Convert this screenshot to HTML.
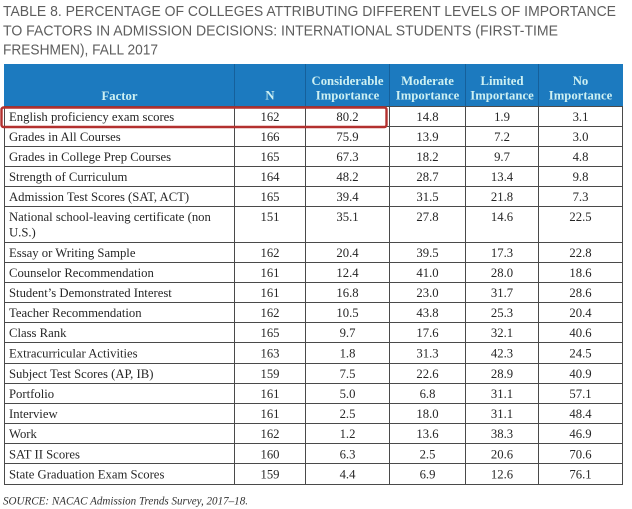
<!DOCTYPE html>
<html>
<head>
<meta charset="utf-8">
<style>
html,body{margin:0;padding:0;background:#fff;}
svg{display:block;}
.t{font-family:"Liberation Sans",sans-serif;font-size:15px;fill:#5e5e5e;}
.b{font-family:"Liberation Serif",serif;font-size:12.7px;fill:#262626;}
.h{font-family:"Liberation Serif",serif;font-size:12.7px;font-weight:bold;fill:#cdf0f2;}
.s{font-family:"Liberation Serif",serif;font-size:12px;font-style:italic;fill:#333;}
</style>
</head>
<body>
<svg width="632" height="509" viewBox="0 0 632 509" xmlns="http://www.w3.org/2000/svg">
<rect width="632" height="509" fill="#fff"/>
<!-- Title -->
<text class="t" x="3" y="16" textLength="613" lengthAdjust="spacingAndGlyphs">TABLE 8. PERCENTAGE OF COLLEGES ATTRIBUTING DIFFERENT LEVELS OF IMPORTANCE</text>
<text class="t" x="3" y="35.5" textLength="555" lengthAdjust="spacingAndGlyphs">TO FACTORS IN ADMISSION DECISIONS: INTERNATIONAL STUDENTS (FIRST-TIME</text>
<text class="t" x="3" y="54.5" textLength="155" lengthAdjust="spacingAndGlyphs">FRESHMEN), FALL 2017</text>

<!-- Header -->
<rect x="4" y="64" width="619" height="42" fill="#1c7abf"/>
<g stroke="#15609b" stroke-width="1" shape-rendering="crispEdges">
<line x1="234.5" y1="64" x2="234.5" y2="106"/>
<line x1="305.5" y1="64" x2="305.5" y2="106"/>
<line x1="389.5" y1="64" x2="389.5" y2="106"/>
<line x1="465.5" y1="64" x2="465.5" y2="106"/>
<line x1="538.5" y1="64" x2="538.5" y2="106"/>
</g>
<g text-anchor="middle">
<text class="h" x="119.5" y="100">Factor</text>
<text class="h" x="270" y="99.5">N</text>
<text class="h" x="347.5" y="85">Considerable</text>
<text class="h" x="347.5" y="99.5">Importance</text>
<text class="h" x="427.5" y="85">Moderate</text>
<text class="h" x="427.5" y="99.5">Importance</text>
<text class="h" x="502" y="85">Limited</text>
<text class="h" x="502" y="99.5">Importance</text>
<text class="h" x="580.5" y="85">No</text>
<text class="h" x="580.5" y="99.5">Importance</text>
</g>

<!-- Grid -->
<g stroke="#4a4a4a" stroke-width="1" shape-rendering="crispEdges" fill="none">
<line x1="4.5" y1="106" x2="4.5" y2="484.5"/>
<line x1="234.5" y1="106" x2="234.5" y2="484.5"/>
<line x1="305.5" y1="106" x2="305.5" y2="484.5"/>
<line x1="389.5" y1="106" x2="389.5" y2="484.5"/>
<line x1="465.5" y1="106" x2="465.5" y2="484.5"/>
<line x1="538.5" y1="106" x2="538.5" y2="484.5"/>
<line x1="622.5" y1="106" x2="622.5" y2="484.5"/>
<line x1="4" y1="106.5" x2="623" y2="106.5"/>
<line x1="4" y1="126.5" x2="623" y2="126.5"/>
<line x1="4" y1="146.5" x2="623" y2="146.5"/>
<line x1="4" y1="166.5" x2="623" y2="166.5"/>
<line x1="4" y1="186.5" x2="623" y2="186.5"/>
<line x1="4" y1="206.5" x2="623" y2="206.5"/>
<line x1="4" y1="242.5" x2="623" y2="242.5"/>
<line x1="4" y1="262.5" x2="623" y2="262.5"/>
<line x1="4" y1="282.5" x2="623" y2="282.5"/>
<line x1="4" y1="302.5" x2="623" y2="302.5"/>
<line x1="4" y1="322.5" x2="623" y2="322.5"/>
<line x1="4" y1="342.5" x2="623" y2="342.5"/>
<line x1="4" y1="363.5" x2="623" y2="363.5"/>
<line x1="4" y1="383.5" x2="623" y2="383.5"/>
<line x1="4" y1="403.5" x2="623" y2="403.5"/>
<line x1="4" y1="423.5" x2="623" y2="423.5"/>
<line x1="4" y1="443.5" x2="623" y2="443.5"/>
<line x1="4" y1="463.5" x2="623" y2="463.5"/>
<line x1="4" y1="484.5" x2="623" y2="484.5"/>
</g>

<!-- Body rows -->
<g>
<text class="b" x="9" y="121">English proficiency exam scores</text>
<text class="b" x="9" y="141">Grades in All Courses</text>
<text class="b" x="9" y="161">Grades in College Prep Courses</text>
<text class="b" x="9" y="181">Strength of Curriculum</text>
<text class="b" x="9" y="201">Admission Test Scores (SAT, ACT)</text>
<text class="b" x="9" y="221">National school-leaving certificate (non</text>
<text class="b" x="9" y="236.5">U.S.)</text>
<text class="b" x="9" y="257">Essay or Writing Sample</text>
<text class="b" x="9" y="277">Counselor Recommendation</text>
<text class="b" x="9" y="297">Student’s Demonstrated Interest</text>
<text class="b" x="9" y="317">Teacher Recommendation</text>
<text class="b" x="9" y="337">Class Rank</text>
<text class="b" x="9" y="357.5">Extracurricular Activities</text>
<text class="b" x="9" y="378">Subject Test Scores (AP, IB)</text>
<text class="b" x="9" y="398">Portfolio</text>
<text class="b" x="9" y="418">Interview</text>
<text class="b" x="9" y="438">Work</text>
<text class="b" x="9" y="458.5">SAT II Scores</text>
<text class="b" x="9" y="478.5">State Graduation Exam Scores</text>
</g>

<g text-anchor="middle">
<!-- N -->
<text class="b" x="270" y="121">162</text>
<text class="b" x="270" y="141">166</text>
<text class="b" x="270" y="161">165</text>
<text class="b" x="270" y="181">164</text>
<text class="b" x="270" y="201">165</text>
<text class="b" x="270" y="221">151</text>
<text class="b" x="270" y="257">162</text>
<text class="b" x="270" y="277">161</text>
<text class="b" x="270" y="297">161</text>
<text class="b" x="270" y="317">162</text>
<text class="b" x="270" y="337">165</text>
<text class="b" x="270" y="357.5">163</text>
<text class="b" x="270" y="378">159</text>
<text class="b" x="270" y="398">161</text>
<text class="b" x="270" y="418">161</text>
<text class="b" x="270" y="438">162</text>
<text class="b" x="270" y="458.5">160</text>
<text class="b" x="270" y="478.5">159</text>
<!-- Considerable -->
<text class="b" x="347.5" y="121">80.2</text>
<text class="b" x="347.5" y="141">75.9</text>
<text class="b" x="347.5" y="161">67.3</text>
<text class="b" x="347.5" y="181">48.2</text>
<text class="b" x="347.5" y="201">39.4</text>
<text class="b" x="347.5" y="221">35.1</text>
<text class="b" x="347.5" y="257">20.4</text>
<text class="b" x="347.5" y="277">12.4</text>
<text class="b" x="347.5" y="297">16.8</text>
<text class="b" x="347.5" y="317">10.5</text>
<text class="b" x="347.5" y="337">9.7</text>
<text class="b" x="347.5" y="357.5">1.8</text>
<text class="b" x="347.5" y="378">7.5</text>
<text class="b" x="347.5" y="398">5.0</text>
<text class="b" x="347.5" y="418">2.5</text>
<text class="b" x="347.5" y="438">1.2</text>
<text class="b" x="347.5" y="458.5">6.3</text>
<text class="b" x="347.5" y="478.5">4.4</text>
<!-- Moderate -->
<text class="b" x="427.5" y="121">14.8</text>
<text class="b" x="427.5" y="141">13.9</text>
<text class="b" x="427.5" y="161">18.2</text>
<text class="b" x="427.5" y="181">28.7</text>
<text class="b" x="427.5" y="201">31.5</text>
<text class="b" x="427.5" y="221">27.8</text>
<text class="b" x="427.5" y="257">39.5</text>
<text class="b" x="427.5" y="277">41.0</text>
<text class="b" x="427.5" y="297">23.0</text>
<text class="b" x="427.5" y="317">43.8</text>
<text class="b" x="427.5" y="337">17.6</text>
<text class="b" x="427.5" y="357.5">31.3</text>
<text class="b" x="427.5" y="378">22.6</text>
<text class="b" x="427.5" y="398">6.8</text>
<text class="b" x="427.5" y="418">18.0</text>
<text class="b" x="427.5" y="438">13.6</text>
<text class="b" x="427.5" y="458.5">2.5</text>
<text class="b" x="427.5" y="478.5">6.9</text>
<!-- Limited -->
<text class="b" x="502" y="121">1.9</text>
<text class="b" x="502" y="141">7.2</text>
<text class="b" x="502" y="161">9.7</text>
<text class="b" x="502" y="181">13.4</text>
<text class="b" x="502" y="201">21.8</text>
<text class="b" x="502" y="221">14.6</text>
<text class="b" x="502" y="257">17.3</text>
<text class="b" x="502" y="277">28.0</text>
<text class="b" x="502" y="297">31.7</text>
<text class="b" x="502" y="317">25.3</text>
<text class="b" x="502" y="337">32.1</text>
<text class="b" x="502" y="357.5">42.3</text>
<text class="b" x="502" y="378">28.9</text>
<text class="b" x="502" y="398">31.1</text>
<text class="b" x="502" y="418">31.1</text>
<text class="b" x="502" y="438">38.3</text>
<text class="b" x="502" y="458.5">20.6</text>
<text class="b" x="502" y="478.5">12.6</text>
<!-- No -->
<text class="b" x="580.5" y="121">3.1</text>
<text class="b" x="580.5" y="141">3.0</text>
<text class="b" x="580.5" y="161">4.8</text>
<text class="b" x="580.5" y="181">9.8</text>
<text class="b" x="580.5" y="201">7.3</text>
<text class="b" x="580.5" y="221">22.5</text>
<text class="b" x="580.5" y="257">22.8</text>
<text class="b" x="580.5" y="277">18.6</text>
<text class="b" x="580.5" y="297">28.6</text>
<text class="b" x="580.5" y="317">20.4</text>
<text class="b" x="580.5" y="337">40.6</text>
<text class="b" x="580.5" y="357.5">24.5</text>
<text class="b" x="580.5" y="378">40.9</text>
<text class="b" x="580.5" y="398">57.1</text>
<text class="b" x="580.5" y="418">48.4</text>
<text class="b" x="580.5" y="438">46.9</text>
<text class="b" x="580.5" y="458.5">70.6</text>
<text class="b" x="580.5" y="478.5">76.1</text>
</g>

<!-- Red highlight box -->
<rect x="1.5" y="107.5" width="385" height="19.5" rx="2" ry="2" fill="none" stroke="#b3302f" stroke-width="2.4"/>

<!-- Source -->
<text class="s" x="3" y="504.5" textLength="245" lengthAdjust="spacingAndGlyphs">SOURCE: NACAC Admission Trends Survey, 2017–18.</text>
</svg>
</body>
</html>
